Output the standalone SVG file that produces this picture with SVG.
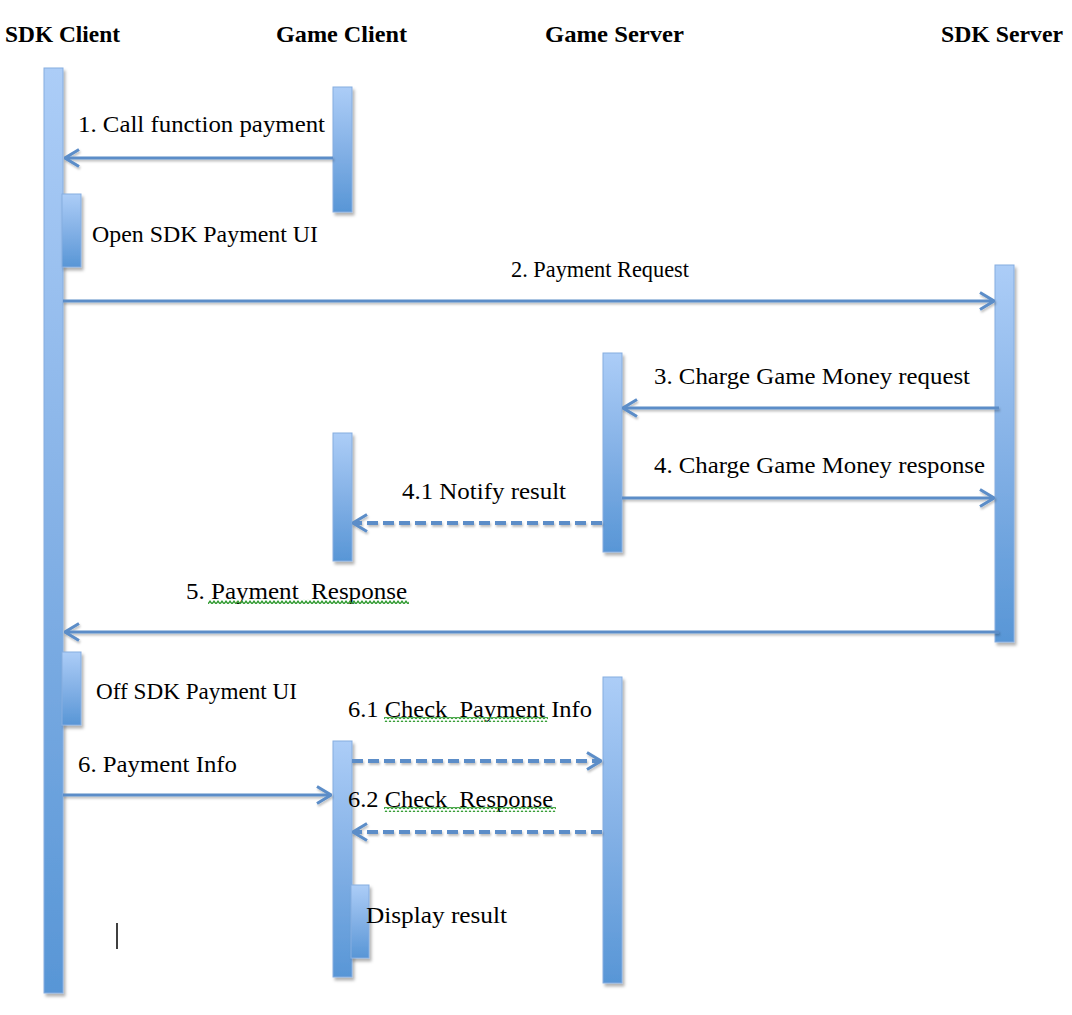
<svg xmlns="http://www.w3.org/2000/svg" width="1072" height="1015" viewBox="0 0 1072 1015">
<style>
  .hdr { font-family: "Liberation Serif", "Times New Roman", serif; font-weight: bold; font-size: 24px; fill: #000; }
  .lbl { font-family: "Liberation Serif", "Times New Roman", serif; font-size: 24px; fill: #000; }
  .bar { fill: url(#barGrad); stroke: #86ade0; stroke-width: 1; filter: url(#shadow); }
  .msg { fill: none; stroke: #5b8dc8; stroke-width: 3; marker-end: url(#arrow); }
  .ret { fill: none; stroke: #5b8dc8; stroke-width: 4; stroke-dasharray: 11 5; marker-end: url(#arrow); }
  .squig { fill: url(#wave); }
</style>
<defs>
  <linearGradient id="barGrad" x1="0" y1="0" x2="0" y2="1">
    <stop offset="0" stop-color="#accdf7"/>
    <stop offset="0.5" stop-color="#84b1e6"/>
    <stop offset="1" stop-color="#5896d6"/>
  </linearGradient>
  <filter id="shadow" x="-50%" y="-10%" width="200%" height="120%">
    <feDropShadow dx="2" dy="3" stdDeviation="1.5" flood-color="#000" flood-opacity="0.3"/>
  </filter>
  <filter id="lshadow" x="-5%" y="-50%" width="110%" height="200%">
    <feDropShadow dx="1" dy="2" stdDeviation="1" flood-color="#000" flood-opacity="0.25"/>
  </filter>
  <marker id="arrow" viewBox="0 0 16 20" markerWidth="16" markerHeight="20" refX="15" refY="10" orient="auto" markerUnits="userSpaceOnUse">
    <path d="M1,1.5 L15,10 L1,18.5" fill="none" stroke="#5b8dc8" stroke-width="3"/>
  </marker>
  <pattern id="wave" x="0" y="0" width="4" height="5" patternUnits="userSpaceOnUse">
    <path d="M0,3.8 L2,1.2 L4,3.8" fill="none" stroke="#2f9a2f" stroke-width="1.4"/>
  </pattern>
</defs>
<rect x="0" y="0" width="1072" height="1015" fill="#fff"/>

<g id="sdk-client">
  <text class="hdr" x="5" y="42" textLength="115" lengthAdjust="spacingAndGlyphs">SDK Client</text>
  <rect class="bar" x="44" y="68" width="19" height="925"/>
  <rect class="bar" x="62" y="194" width="19" height="73"/>
  <rect class="bar" x="62" y="652" width="19" height="73"/>
</g>

<g id="game-client">
  <text class="hdr" x="276" y="42" textLength="131" lengthAdjust="spacingAndGlyphs">Game Client</text>
  <rect class="bar" x="333" y="87" width="19" height="125"/>
  <rect class="bar" x="333" y="433" width="19" height="128"/>
  <rect class="bar" x="333" y="741" width="19" height="236"/>
  <rect class="bar" x="351" y="885" width="18" height="73"/>
</g>

<g id="game-server">
  <text class="hdr" x="545" y="42" textLength="139" lengthAdjust="spacingAndGlyphs">Game Server</text>
  <rect class="bar" x="603" y="353" width="19" height="199"/>
  <rect class="bar" x="603" y="677" width="19" height="306"/>
</g>

<g id="sdk-server">
  <text class="hdr" x="941" y="42" textLength="122" lengthAdjust="spacingAndGlyphs">SDK Server</text>
  <rect class="bar" x="995" y="265" width="19" height="377"/>
</g>

<g id="connectors">
  <g filter="url(#lshadow)">
    <line class="msg" x1="333" y1="158" x2="65" y2="158"/>
    <line class="msg" x1="63" y1="301" x2="994" y2="301"/>
    <line class="msg" x1="999" y1="408" x2="623" y2="408"/>
    <line class="msg" x1="622" y1="498" x2="994" y2="498"/>
    <line class="ret" x1="602" y1="523" x2="353" y2="523"/>
    <line class="msg" x1="999" y1="632" x2="65" y2="632"/>
    <line class="ret" x1="352" y1="761" x2="601" y2="761"/>
    <line class="msg" x1="63" y1="795" x2="331" y2="795"/>
    <line class="ret" x1="602" y1="832" x2="353" y2="832"/>
  </g>
  <text class="lbl" x="78" y="132" textLength="247" lengthAdjust="spacingAndGlyphs">1. Call function payment</text>
  <text class="lbl" x="92" y="242" textLength="226" lengthAdjust="spacingAndGlyphs">Open SDK Payment UI</text>
  <text class="lbl" x="511" y="277" textLength="178" lengthAdjust="spacingAndGlyphs">2. Payment Request</text>
  <text class="lbl" x="654" y="384" textLength="316" lengthAdjust="spacingAndGlyphs">3. Charge Game Money request</text>
  <text class="lbl" x="654" y="473" textLength="331" lengthAdjust="spacingAndGlyphs">4. Charge Game Money response</text>
  <text class="lbl" x="402" y="499" textLength="164" lengthAdjust="spacingAndGlyphs">4.1 Notify result</text>
  <text class="lbl" x="186" y="599" textLength="221" lengthAdjust="spacingAndGlyphs" xml:space="preserve">5. Payment  Response</text>
  <text class="lbl" x="96" y="699" textLength="201" lengthAdjust="spacingAndGlyphs">Off SDK Payment UI</text>
  <text class="lbl" x="348" y="717" textLength="244" lengthAdjust="spacingAndGlyphs" xml:space="preserve">6.1 Check  Payment Info</text>
  <text class="lbl" x="78" y="772" textLength="159" lengthAdjust="spacingAndGlyphs">6. Payment Info</text>
  <text class="lbl" x="348" y="807" textLength="205" lengthAdjust="spacingAndGlyphs" xml:space="preserve">6.2 Check  Response</text>
  <text class="lbl" x="366" y="923" textLength="141" lengthAdjust="spacingAndGlyphs">Display result</text>
  <rect class="squig" x="208" y="599" width="201" height="5"/>
  <rect class="squig" x="384" y="717" width="164" height="5"/>
  <rect class="squig" x="384" y="807" width="172" height="5"/>
</g>

<line x1="117" y1="923" x2="117" y2="949" stroke="#000" stroke-width="1.5"/>
</svg>
